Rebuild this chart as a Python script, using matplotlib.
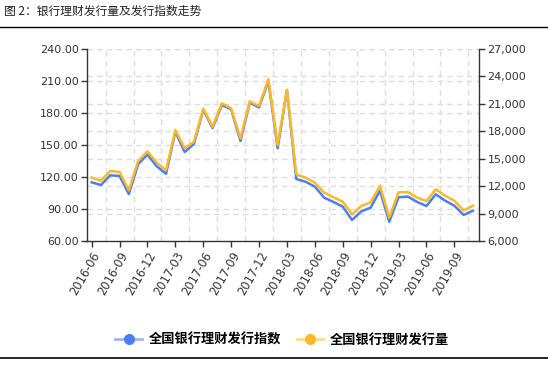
import matplotlib
matplotlib.use('Agg')
import matplotlib.pyplot as plt
from matplotlib.lines import Line2D
from matplotlib.colors import to_rgba
import pandas as pd

plt.rcParams['font.family'] = ['DejaVu Sans', 'Noto Sans CJK SC']

months = pd.period_range('2016-06', '2019-11', freq='M').strftime('%Y-%m').tolist()

# 全国银行理财发行指数 (左轴)
index_vals = [115.0, 112.5, 121.6, 121.0, 104.0, 132.0, 141.0, 130.0, 123.0, 162.5,
              143.4, 151.0, 183.0, 166.0, 187.5, 183.4, 153.8, 189.7, 185.3, 210.0,
              147.0, 201.6, 118.1, 115.6, 110.9, 100.6, 96.6, 92.2, 79.7, 87.8,
              91.3, 107.2, 78.1, 101.0, 101.6, 96.6, 92.8, 103.8, 97.8, 93.1,
              84.4, 88.4]
# 全国银行理财发行量 (右轴)
volume_vals = [12925, 12600, 13656, 13547, 11542, 14750, 15810, 14568, 13730, 18140,
               16140, 16860, 20470, 18500, 21060, 20510, 17230, 21280, 20770, 23690,
               16500, 22520, 13290, 12925, 12380, 11290, 10780, 10300, 8920, 9830,
               10230, 12050, 8550, 11330, 11360, 10740, 10375, 11650, 10960, 10400,
               9350, 9860]

left_ticks = [60, 90, 120, 150, 180, 210, 240]
right_ticks = [6000, 9000, 12000, 15000, 18000, 21000, 24000, 27000]

blue = '#4a7ff0'
yellow = '#fdb827'
grid_c = '#dddddd'
axis_c = '#333333'

fig = plt.figure(figsize=(5.48, 3.79), dpi=100)
ax = fig.add_axes([87 / 548, 1 - 241 / 379, 392 / 548, 192 / 379])
ax2 = ax.twinx()

x = list(range(len(months)))
ax.plot(x, index_vals, color=blue, lw=1.8, solid_joinstyle='round', zorder=3)
ax2.plot(x, volume_vals, color=yellow, lw=1.8, solid_joinstyle='round', zorder=3)

ax.set_xlim(-0.5, len(months) - 1 + 0.65)
ax.set_ylim(60, 240)
ax2.set_ylim(6000, 27000)
ax.set_yticks(left_ticks)
ax.set_yticklabels([f'{v:.2f}' for v in left_ticks])
ax2.set_yticks(right_ticks)
ax2.set_yticklabels([f'{v:,}' for v in right_ticks])

ax.set_xticks(x[::3])
ax.set_xticklabels(months[::3], rotation=60, ha='right', rotation_mode='anchor')

# 网格线
for v in left_ticks[1:]:
    ax.axhline(v, color=grid_c, lw=1, ls=(0, (4, 3)), zorder=0)
for v in right_ticks[1:]:
    ax.axhline(60 + (v - 6000) * 180 / 21000, color=grid_c, lw=1, ls=(0, (4, 3)), zorder=0)
for i in range(len(months)):
    if i % 3 == 1:
        ax.axvline(i + 0.5, color=grid_c, lw=1, ls=(0, (4, 3)), zorder=0)

for a in (ax, ax2):
    a.spines['top'].set_visible(False)
    for s in a.spines.values():
        s.set_color(axis_c)
        s.set_linewidth(1)
    a.tick_params(colors=axis_c, labelsize=8, length=4, width=1, pad=2)
ax.tick_params(axis='x', labelsize=8.3)
ax.spines['right'].set_visible(False)
ax2.spines['left'].set_visible(False)
ax2.spines['bottom'].set_visible(False)

fig.text(0.008, 1 - 11 / 379, '图 2：银行理财发行量及发行指数走势', fontsize=8.5,
         family=['Noto Sans CJK SC'], va='center', ha='left', color='#222222')
fig.add_artist(Line2D([0, 1], [1 - 27 / 379] * 2, color='black', lw=1))
fig.add_artist(Line2D([0, 1], [1 - 358 / 379] * 2, color='black', lw=1.2))

handles = [
    Line2D([], [], color=to_rgba(blue, 0.55), lw=2, marker='o', markersize=7,
           markerfacecolor=blue, markeredgecolor=blue),
    Line2D([], [], color=to_rgba(yellow, 0.55), lw=2, marker='o', markersize=7,
           markerfacecolor=yellow, markeredgecolor=yellow),
]
fig.legend(handles, ['全国银行理财发行指数', '全国银行理财发行量'], loc='center',
           bbox_to_anchor=(0.515, 1 - 340 / 379), ncol=2, frameon=False,
           prop={'family': 'Noto Sans CJK SC', 'size': 9.5, 'weight': 'bold'},
           handlelength=2, handletextpad=0.5, columnspacing=1.2)

fig.savefig('out.png', dpi=100)
